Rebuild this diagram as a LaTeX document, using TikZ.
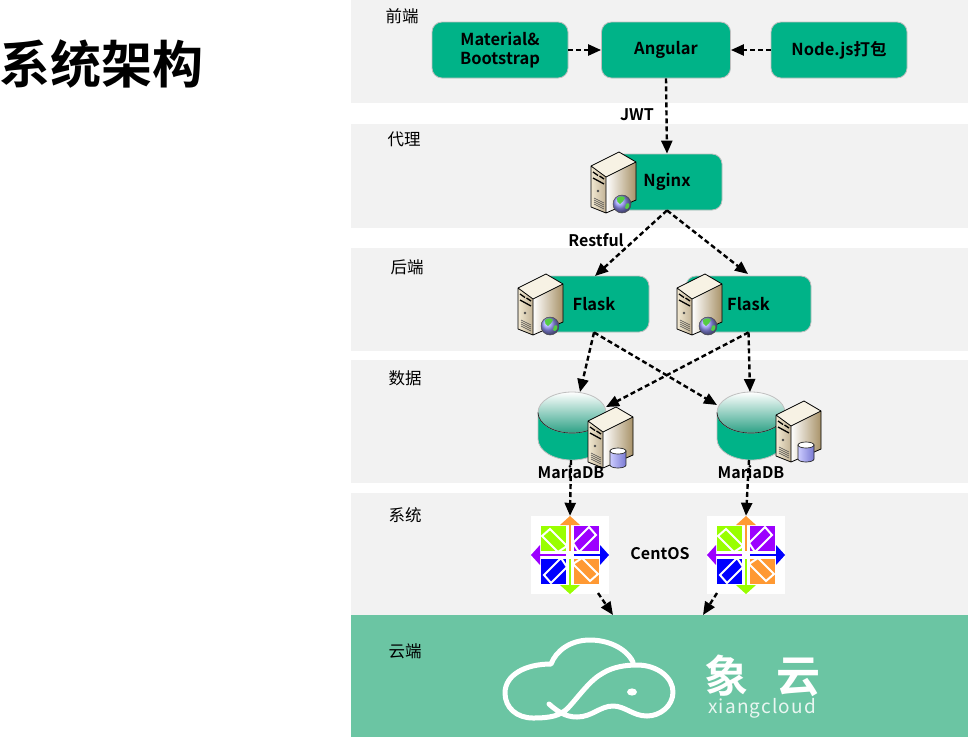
\documentclass[tikz,border=0pt]{standalone}
\usepackage{fontspec}
\setmainfont{Noto Sans CJK SC}
\newfontfamily\boldcjk{Noto Sans CJK SC Bold}
\usetikzlibrary{arrows.meta,shadings}
\definecolor{band}{HTML}{F2F2F2}
\definecolor{teal}{HTML}{00B388}
\definecolor{cloudband}{HTML}{6BC5A3}
\definecolor{cOrange}{HTML}{FF9933}
\definecolor{cPurple}{HTML}{9C00FF}
\definecolor{cBlue}{HTML}{0000FF}
\definecolor{cGreen}{HTML}{99FF00}
\definecolor{srvTan}{HTML}{A89268}
\definecolor{srvCream}{HTML}{F2E9D2}
\definecolor{globeGreen}{HTML}{55CC44}
\tikzset{
  bandbox/.style={fill=band,draw=none},
  tealbox/.style={fill=teal,draw=black!25,line width=.8pt,rounded corners=10pt,inner sep=0pt,align=center,font=\boldcjk\fontsize{16.5}{19.5}\selectfont},
  lbl/.style={inner sep=0pt,font=\fontsize{16.5}{18}\selectfont},
  blbl/.style={inner sep=0pt,font=\boldcjk\fontsize{16}{18}\selectfont},
  link/.style={draw=black,line width=2.4pt,dash pattern=on 5pt off 3pt,-{Triangle[width=11pt,length=13pt]}},
  server/.pic={
    \shade[left color=white,right color=srvTan] (15,25) -- (45,10) -- (45,48) -- (15,61) -- cycle;
    \shade[left color=srvCream,right color=srvTan!70!white] (0,14) -- (15,25) -- (15,61) -- (0,55) -- cycle;
    \fill[srvCream!60!white] (0,14) -- (28,0) -- (45,10) -- (15,25) -- cycle;
    \draw[black,line width=.8pt,line join=round] (0,14) -- (28,0) -- (45,10) -- (45,48) -- (15,61) -- (0,55) -- cycle (0,14) -- (15,25) -- (45,10) (15,25) -- (15,61);
    \draw[black,line width=1.3pt] (2,20) -- (7,23.5) (8.5,24) -- (13,27) (2,26) -- (13,32);
    \fill[black!70] (7,39) circle (1.3);
    \draw[black!70,line width=.6pt] (3,46) -- (13,51) (3,48) -- (13,53) (3,50) -- (13,55) (3,52) -- (13,57);
  },
  globe/.pic={
    \shade[ball color=blue!40!white,draw=black!70,line width=.5pt] (0,0) circle (9);
    \fill[globeGreen] (-5,-6) .. controls (-2,-8.5) and (2,-8) .. (3,-6) .. controls (1,-4) and (1,-1) .. (-2,0) .. controls (-4,-1) and (-6,-3) .. cycle;
    \fill[globeGreen] (4,0) .. controls (7,-2) and (8,0) .. (7,3) .. controls (6,5) and (4,6) .. (3,4) -- cycle;
  },
  minidb/.pic={
    \shade[left color=blue!20!white,right color=blue!50!gray!70,draw=black!85,line width=.7pt] (-8,-7) -- (-8,7) arc[x radius=8,y radius=3,start angle=180,end angle=0] -- (8,-7) -- cycle;
    \fill[white,draw=black!85,line width=.7pt] (0,-7) ellipse (8 and 3);
  },
  db/.pic={
    \fill[teal,draw=black!25,line width=.8pt] (-34,-13.5) -- (-34,13) arc[x radius=34,y radius=21,start angle=180,end angle=0] -- (34,-13.5) -- cycle;
    \shade[top color=white,bottom color=teal!65!gray,draw=black!25,line width=.8pt] (0,-13.5) ellipse (34 and 20.5);
    \draw[black!85,line width=.7pt] (-34,-13.5) arc[x radius=34,y radius=20.5,start angle=180,end angle=0];
  },
  centosquad/.pic={
    \fill[pic actions] (4,-29) rectangle (29,-4);
    \draw[white,line width=2pt,line join=miter] (3,-12) -- (19,-28) -- (26,-20) -- (9,-3) -- cycle;
  },
  centosarm/.pic={
    \fill[pic actions] (-10,-30) -- (0,-39) -- (10,-30) -- cycle;
    \fill[pic actions] (-1.4,-31) rectangle (1.4,-4);
  },
  centoslogo/.pic={
    \pic[fill=cPurple] {centosquad};
    \pic[fill=cOrange,rotate=-90] {centosquad};
    \pic[fill=cBlue,rotate=180] {centosquad};
    \pic[fill=cGreen,rotate=90] {centosquad};
    \fill[white] (0,0) circle (5);
    \pic[fill=cOrange] {centosarm};
    \pic[fill=cBlue,rotate=-90] {centosarm};
    \pic[fill=cGreen,rotate=180] {centosarm};
    \pic[fill=cPurple,rotate=90] {centosarm};
  },
}
\begin{document}
\begin{tikzpicture}[x=1pt,y=-1pt]
\useasboundingbox (0,0) rectangle (968,737);
\fill[white] (0,0) rectangle (968,737);
% bands
\fill[bandbox] (351,0) rectangle (968,103);
\fill[bandbox] (351,124) rectangle (968,228);
\fill[bandbox] (351,248) rectangle (968,351);
\fill[bandbox] (351,360) rectangle (968,483);
\fill[bandbox] (351,493) rectangle (968,615);
\node[fill=cloudband,inner sep=0pt,minimum width=617pt,minimum height=122pt] (cloudzone) at (659.5,676) {};
% title
\node[inner sep=0pt,anchor=west,font=\boldcjk\fontsize{51}{56}\selectfont] (title) at (-1,64) {系统架构};
% band labels
\node[lbl] (l1) at (402,16) {前端};
\node[lbl] (l2) at (404,139) {代理};
\node[lbl] (l3) at (407,267) {后端};
\node[lbl] (l4) at (405,378) {数据};
\node[lbl] (l5) at (405,515) {系统};
\node[lbl] (l6) at (405,651) {云端};
% front-end boxes
\node[tealbox,minimum width=136pt,minimum height=56pt] (mat) at (500,50) {Material\&\\Bootstrap};
\node[tealbox,minimum width=129pt,minimum height=56pt] (ang) at (666,50) {Angular};
\node[tealbox,minimum width=136pt,minimum height=56pt] (nodejs) at (839,50) {Node.js打包};
% proxy and back-end boxes
\node[tealbox,minimum width=110pt,minimum height=56pt] (nginx) at (667,182) {Nginx};
\node[tealbox,minimum width=110pt,minimum height=56pt] (flaskA) at (594,304) {Flask};
\node[tealbox,minimum width=125pt,minimum height=56pt] (flaskB) at (748.5,304) {Flask};
\pic at (591,152) {server};
\pic at (622,204) {globe};
\pic at (518,274) {server};
\pic at (550,326) {globe};
\pic at (677,274) {server};
\pic at (708,326) {globe};
% databases
\node[inner sep=0pt,minimum width=68pt,minimum height=68pt] (dbA) at (572,426) {};
\node[inner sep=0pt,minimum width=68pt,minimum height=68pt] (dbB) at (751,426) {};
\pic at (dbA) {db};
\pic at (dbB) {db};
\pic at (588,407) {server};
\pic at (618,458) {minidb};
\pic at (776,401) {server};
\pic at (806,452) {minidb};
\node[blbl] (mariaA) at (571,472) {MariaDB};
\node[blbl] (mariaB) at (751,472) {MariaDB};
% CentOS
\node[fill=white,inner sep=0pt,minimum width=78pt,minimum height=78pt] (centA) at (570,555) {};
\node[fill=white,inner sep=0pt,minimum width=78pt,minimum height=78pt] (centB) at (746,555) {};
\pic at (centA) {centoslogo};
\pic at (centB) {centoslogo};
\node[blbl] (centlabel) at (660,554) {CentOS};
% edge labels
\node[blbl] (jwt) at (637,115) {JWT};
\node[blbl] (restful) at (596,240) {Restful};
% cloud logo
\draw[white,line width=5pt,line cap=round,line join=round]
  (633,662) .. controls (626,648) and (608,640) .. (590,640)
  .. controls (570,640) and (556,651) .. (551,664)
  .. controls (525,664) and (505,675) .. (505,693)
  .. controls (505,708) and (517,718) .. (533,718)
  .. controls (550,718) and (560,716) .. (568,708)
  .. controls (580,695) and (590,680) .. (603,673)
  .. controls (613,667) and (625,665) .. (637,665)
  .. controls (658,665) and (673,678) .. (673,692)
  .. controls (673,706) and (660,716) .. (647,716)
  .. controls (633,716) and (625,706) .. (613,706)
  .. controls (600,706) and (592,717) .. (577,717)
  .. controls (565,717) and (557,711) .. (549,704);
\fill[white] (632,692) ellipse (5 and 3.6);
\node[inner sep=0pt,text=white,font=\boldcjk\fontsize{44}{46}\selectfont] (xiangname) at (762.5,676) {象\hspace{28pt}云};
\node[inner sep=0pt,text=white!85!cloudband,font=\fontsize{19}{20}\selectfont\addfontfeature{LetterSpace=6}] (xiangsub) at (762,708) {xiangcloud};
% connectors
\coordinate (dbAin) at (580,392);
\coordinate (dbAside) at (606,407);
\coordinate (dbBside) at (717,405);
\coordinate (dbBin) at (750,392);
\coordinate (dbAout) at (571,460);
\coordinate (dbBout) at (749,460);
\coordinate (centAout) at (598,593);
\coordinate (centBout) at (717,593);
\coordinate (cloudIn) at (613,615);
\coordinate (cloudInB) at (703,615);
\coordinate (flaskAin) at (595,276);
\coordinate (flaskBin) at (748,274);
\draw[link] (mat.east) -- (ang.west);
\draw[link] (nodejs.west) -- (ang.east);
\draw[link] (ang.south) -- (nginx.north);
\draw[link] (nginx.south) -- (flaskAin);
\draw[link] (nginx.south) -- (flaskBin);
\draw[link] (flaskA.south) -- (dbAin);
\draw[link] (flaskA.south) -- (dbBside);
\draw[link] (flaskB.south) -- (dbAside);
\draw[link] (flaskB.south) -- (dbBin);
\draw[link] (dbAout) -- (centA.north);
\draw[link] (dbBout) -- (centB.north);
\draw[link] (centAout) -- (cloudIn);
\draw[link] (centBout) -- (cloudInB);
\end{tikzpicture}
\end{document}
